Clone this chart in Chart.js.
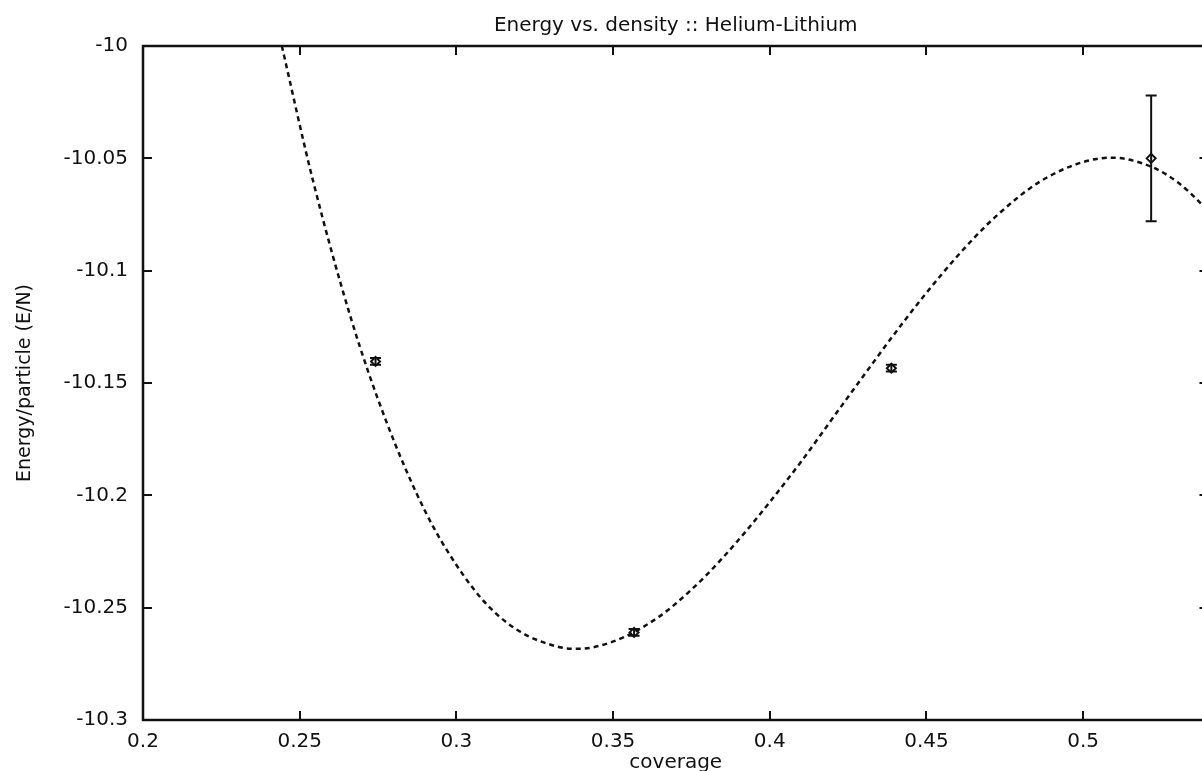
<!DOCTYPE html>
<html>
<head>
<meta charset="utf-8">
<script src="https://cdn.jsdelivr.net/npm/chart.js@4.4.0/dist/chart.umd.min.js"></script>
<style>
html, body { margin: 0; padding: 0; background: #fff; overflow: hidden; }
#wrap { width: 1215px; height: 771px; position: relative; }
</style>
</head>
<body>
<div id="wrap"><canvas id="energyChart"></canvas></div>
<script>
// measured points with error bars
var coverage = [0.2742, 0.3567, 0.4388, 0.5217];
var energy = [-10.1404, -10.2610, -10.1434, -10.0500];
var energyErr = [0.0015, 0.0015, 0.0015, 0.028];

// dashed fit curve
var fitCoverage = [0.2443, 0.2542, 0.2666, 0.2776, 0.29, 0.30, 0.31, 0.32, 0.333, 0.338, 0.3434, 0.354, 0.3646, 0.3705,
    0.38, 0.39, 0.40, 0.41, 0.4225, 0.4427, 0.455, 0.465, 0.4729, 0.4857, 0.4994, 0.509, 0.5217, 0.5303, 0.5373, 0.54];
var fitEnergy = [-10.000, -10.0597, -10.1223, -10.167, -10.207, -10.231, -10.249, -10.2604, -10.2676, -10.2683, -10.2677, -10.2628, -10.2541, -10.2476,
    -10.2352, -10.2199, -10.203, -10.185, -10.161, -10.1228, -10.1014, -10.0857, -10.0749, -10.0608, -10.0519, -10.0497, -10.0537, -10.0608, -10.0697, -10.0739];

var xTicks = [0.2, 0.25, 0.3, 0.35, 0.4, 0.45, 0.5];
var yTicks = [-10.3, -10.25, -10.2, -10.15, -10.1, -10.05, -10];

var ink = '#111';
var tickFont = { family: '"DejaVu Sans"', size: 20 };

function pairs(xs, ys) {
    return xs.map(function(x, i) { return { x: x, y: ys[i] }; });
}
function fmt(v) { return String(Number(v.toFixed(3))); }

// gnuplot style frame, inward ticks, error bars and title
var gnuplotBits = {
    id: 'gnuplotBits',
    afterDatasetsDraw: function(chart) {
        var ctx = chart.ctx, a = chart.chartArea;
        var xs = chart.scales.x, ys = chart.scales.y;
        ctx.save();
        ctx.strokeStyle = ink;
        ctx.lineWidth = 2.5;
        ctx.strokeRect(a.left, a.top, a.right - a.left, a.bottom - a.top);

        ctx.lineWidth = 2;
        ctx.beginPath();
        xTicks.forEach(function(v) {
            var px = Math.round(xs.getPixelForValue(v));
            ctx.moveTo(px, a.bottom); ctx.lineTo(px, a.bottom - 9);
            ctx.moveTo(px, a.top); ctx.lineTo(px, a.top + 9);
        });
        yTicks.forEach(function(v) {
            var py = Math.round(ys.getPixelForValue(v));
            ctx.moveTo(a.left, py); ctx.lineTo(a.left + 9, py);
            ctx.moveTo(a.right, py); ctx.lineTo(a.right - 9, py);
        });
        ctx.stroke();

        ctx.lineWidth = 2;
        ctx.beginPath();
        coverage.forEach(function(c, i) {
            var px = xs.getPixelForValue(c);
            var top = ys.getPixelForValue(energy[i] + energyErr[i]);
            var bot = ys.getPixelForValue(energy[i] - energyErr[i]);
            ctx.moveTo(px, top); ctx.lineTo(px, bot);
            ctx.moveTo(px - 5.5, top); ctx.lineTo(px + 5.5, top);
            ctx.moveTo(px - 5.5, bot); ctx.lineTo(px + 5.5, bot);
        });
        ctx.stroke();

        ctx.fillStyle = ink;
        ctx.font = '20px "DejaVu Sans"';
        ctx.textAlign = 'center';
        ctx.textBaseline = 'middle';
        ctx.fillText('Energy vs. density :: Helium-Lithium', (a.left + a.right) / 2, 26);
        ctx.restore();
    }
};

var ctx = document.getElementById('energyChart').getContext('2d');
var energyChart = new Chart(ctx, {
    type: 'scatter',
    data: {
        datasets: [{
            label: 'fit',
            data: pairs(fitCoverage, fitEnergy),
            showLine: true,
            borderColor: ink,
            borderWidth: 2.5,
            borderDash: [5, 4],
            pointRadius: 0,
            cubicInterpolationMode: 'monotone',
            fill: false
        }, {
            label: 'E/N',
            data: pairs(coverage, energy),
            pointStyle: 'rectRot',
            pointRadius: 4.5,
            pointBorderWidth: 2,
            pointBorderColor: ink,
            pointBackgroundColor: '#fff'
        }]
    },
    options: {
        responsive: true,
        maintainAspectRatio: false,
        animation: false,
        layout: { padding: { top: 46, left: 0, right: 6, bottom: 0 } },
        plugins: {
            legend: { display: false },
            tooltip: { enabled: false }
        },
        scales: {
            x: {
                type: 'linear',
                min: 0.2,
                max: 0.54,
                grid: { display: false, drawTicks: false },
                border: { display: false },
                afterBuildTicks: function(scale) {
                    scale.ticks = xTicks.map(function(v) { return { value: v }; });
                },
                afterFit: function(scale) { scale.height = 51; },
                ticks: { color: ink, font: tickFont, padding: 10, maxRotation: 0, callback: fmt },
                title: {
                    display: true,
                    text: 'coverage',
                    color: ink,
                    font: { family: '"DejaVu Sans"', size: 20, lineHeight: 0.8 },
                    padding: 0
                }
            },
            y: {
                type: 'linear',
                min: -10.3,
                max: -10,
                grid: { display: false, drawTicks: false },
                border: { display: false },
                afterBuildTicks: function(scale) {
                    scale.ticks = yTicks.map(function(v) { return { value: v }; });
                },
                afterFit: function(scale) { scale.width = 143; },
                ticks: { color: ink, font: tickFont, padding: 15, callback: fmt },
                title: {
                    display: true,
                    text: 'Energy/particle (E/N)',
                    color: ink,
                    font: { family: '"DejaVu Sans"', size: 19 },
                    padding: { top: 14, bottom: 0 }
                }
            }
        }
    },
    plugins: [gnuplotBits]
});
</script>
</body>
</html>
